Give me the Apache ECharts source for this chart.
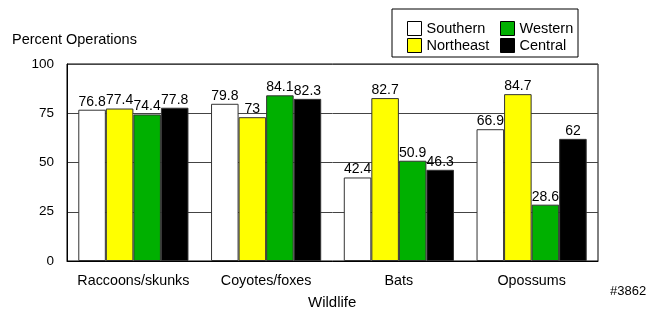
<!DOCTYPE html>
<html><head><meta charset="utf-8">
<script src="https://cdn.jsdelivr.net/npm/echarts@6/dist/echarts.min.js"></script>
<style>html,body{margin:0;padding:0;background:#fff}#c{width:647px;height:312px}</style>
</head><body><div id="c"></div>
<script>
var categories = ['Raccoons/skunks', 'Coyotes/foxes', 'Bats', 'Opossums'];
var southern = [76.8, 79.8, 42.4, 66.9];
var northeast = [77.4, 73, 82.7, 84.7];
var western = [74.4, 84.1, 50.9, 28.6];
var central = [77.8, 82.3, 46.3, 62];
var yTicks = [0, 25, 50, 75, 100];

var FONT = 'Liberation Sans, Arial, sans-serif';
function mk(name, data, color) {
  return {
    name: name, type: 'bar', data: data, barGap: '0%', barCategoryGap: '17%',
    itemStyle: {color: color, borderColor: '#333', borderWidth: 1},
    label: {show: true, position: 'top', distance: 1, color: '#000', fontSize: 14, fontFamily: FONT},
    z: 3
  };
}
var legendCommon = {orient: 'vertical', top: 16, itemWidth: 14, itemHeight: 14, itemGap: 2, icon: 'rect',
  textStyle: {fontSize: 14.5, fontFamily: FONT, color: '#000'}, itemStyle: {borderColor: '#000', borderWidth: 1}};
var chart = echarts.init(document.getElementById('c'));
chart.setOption({
  animation: false,
  grid: {left: 67, right: 49, top: 64, bottom: 51, show: true, borderColor: '#000', borderWidth: 1, containLabel: false},
  legend: [
    Object.assign({data: ['Southern', 'Northeast'], left: 402}, legendCommon),
    Object.assign({data: ['Western', 'Central'], left: 495}, legendCommon)
  ],
  graphic: [
    {type: 'rect', shape: {x: 392, y: 9, width: 186, height: 48}, style: {fill: 'none', stroke: '#000', lineWidth: 1}},
    {type: 'text', left: 12, top: 32, style: {text: 'Percent Operations', fontSize: 14.5, fontFamily: FONT, fill: '#000'}},
    {type: 'text', left: 308, top: 295, style: {text: 'Wildlife', fontSize: 15, fontFamily: FONT, fill: '#000'}},
    {type: 'text', left: 610, top: 285, style: {text: '#3862', fontSize: 13, fontFamily: FONT, fill: '#000'}}
  ],
  xAxis: {
    type: 'category', data: categories,
    axisLine: {show: true, lineStyle: {color: '#000'}}, axisTick: {show: false},
    axisLabel: {interval: 0, fontSize: 14.3, fontFamily: FONT, color: '#000', margin: 13}
  },
  yAxis: {
    type: 'value', min: 0, max: 100, interval: 25,
    axisLine: {show: true, lineStyle: {color: '#000'}}, axisTick: {show: false},
    axisLabel: {fontSize: 13.5, fontFamily: FONT, color: '#000', margin: 13,
      formatter: function (v) { return yTicks.indexOf(v) >= 0 ? String(v) : ''; }},
    splitLine: {show: true, lineStyle: {color: '#444', width: 1}}
  },
  series: [
    mk('Southern', southern, '#ffffff'),
    mk('Northeast', northeast, '#ffff00'),
    mk('Western', western, '#00b000'),
    mk('Central', central, '#000000')
  ]
});
</script></body></html>
